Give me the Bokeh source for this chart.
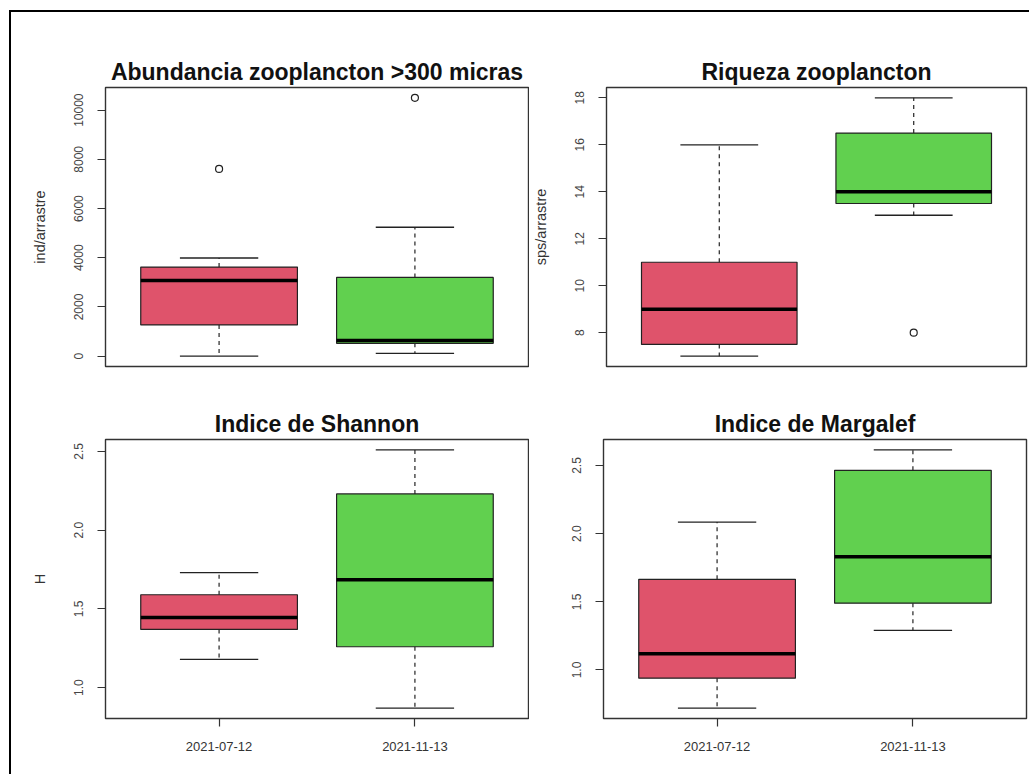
from bokeh.plotting import figure
from bokeh.layouts import column, row
from bokeh.models import Range1d, FixedTicker, PrintfTickFormatter
from bokeh.embed import file_html
from bokeh.resources import INLINE

categories = ["2021-07-12", "2021-11-13"]
colors = ["#DF536B", "#61D04F"]

# Abundancia zooplancton >300 micras (ind/arrastre)
abund_lo = [0, 110]
abund_q1 = [1270, 520]
abund_med = [3080, 640]
abund_q3 = [3620, 3200]
abund_hi = [3990, 5240]
abund_out = [[7610], [10500]]
abund_ticks = [0, 2000, 4000, 6000, 8000, 10000]

# Riqueza zooplancton (sps/arrastre)
riq_lo = [7, 13]
riq_q1 = [7.5, 13.5]
riq_med = [9, 14]
riq_q3 = [11, 16.5]
riq_hi = [16, 18]
riq_out = [[], [8]]
riq_ticks = [8, 10, 12, 14, 16, 18]

# Indice de Shannon (H)
sha_lo = [1.18, 0.87]
sha_q1 = [1.37, 1.26]
sha_med = [1.445, 1.685]
sha_q3 = [1.59, 2.23]
sha_hi = [1.73, 2.51]
sha_out = [[], []]
sha_ticks = [1.0, 1.5, 2.0, 2.5]

# Indice de Margalef
mar_lo = [0.72, 1.29]
mar_q1 = [0.94, 1.49]
mar_med = [1.12, 1.83]
mar_q3 = [1.665, 2.465]
mar_hi = [2.085, 2.615]
mar_out = [[], []]
mar_ticks = [1.0, 1.5, 2.0, 2.5]

FONT = "Liberation Sans"


def make_panel(title, ylabel, lo, q1, med, q3, hi, outs, yticks, fmt,
               show_x, width, height, bl, br, bt, bb):
    xs = [i + 1 for i in range(len(categories))]
    allv = lo + hi + [v for o in outs for v in o]
    vmin, vmax = min(allv), max(allv)
    pad = 0.04 * (vmax - vmin)
    n = len(categories)
    xpad = 0.04 * n
    p = figure(width=width, height=height,
               x_range=Range1d(0.5 - xpad, n + 0.5 + xpad),
               y_range=Range1d(vmin - pad, vmax + pad),
               output_backend="svg", toolbar_location=None,
               min_border_left=bl, min_border_right=br,
               min_border_top=bt, min_border_bottom=bb,
               background_fill_color="white", border_fill_color="white")
    p.title.text = title
    p.title.align = "center"
    p.title.text_font = FONT
    p.title.text_font_size = "23px"
    p.title.text_font_style = "bold"
    p.title.text_color = "#111111"
    p.title.standoff = 5
    p.xgrid.visible = False
    p.ygrid.visible = False
    p.outline_line_color = "#333333"
    p.outline_line_width = 1.4

    # boxes
    p.vbar(x=xs, width=0.8, bottom=q1, top=q3, fill_color=colors,
           line_color="#222222", line_width=1.2)
    # whiskers (dashed)
    p.segment(x0=xs, y0=q3, x1=xs, y1=hi, line_color="#222222",
              line_width=1.2, line_dash="4 4")
    p.segment(x0=xs, y0=q1, x1=xs, y1=lo, line_color="#222222",
              line_width=1.2, line_dash="4 4")
    # staples
    p.segment(x0=[x - 0.2 for x in xs], y0=hi, x1=[x + 0.2 for x in xs],
              y1=hi, line_color="#222222", line_width=1.3)
    p.segment(x0=[x - 0.2 for x in xs], y0=lo, x1=[x + 0.2 for x in xs],
              y1=lo, line_color="#222222", line_width=1.3)
    # medians
    p.segment(x0=[x - 0.4 for x in xs], y0=med, x1=[x + 0.4 for x in xs],
              y1=med, line_color="black", line_width=3.5)
    # outliers
    ox = [xs[i] for i, o in enumerate(outs) for _ in o]
    oy = [v for o in outs for v in o]
    if ox:
        p.scatter(x=ox, y=oy, marker="circle", size=7, fill_color=None,
                  line_color="#222222", line_width=1.2)

    ya = p.yaxis[0]
    ya.ticker = FixedTicker(ticks=yticks)
    ya.formatter = PrintfTickFormatter(format=fmt)
    ya.major_label_orientation = "vertical"
    ya.minor_tick_line_color = None
    ya.axis_line_color = None
    ya.major_tick_out = 8
    ya.major_tick_in = 0
    ya.major_tick_line_color = "#333333"
    ya.major_tick_line_width = 1.2
    ya.major_label_text_font = FONT
    ya.major_label_text_font_size = "12px"
    ya.major_label_text_color = "#444444"
    ya.major_label_standoff = 14
    ya.axis_label = ylabel
    ya.axis_label_text_font = FONT
    ya.axis_label_text_font_size = "14.5px"
    ya.axis_label_text_font_style = "normal"
    ya.axis_label_text_color = "#333333"
    ya.axis_label_standoff = 24

    xa = p.xaxis[0]
    if show_x:
        xa.ticker = FixedTicker(ticks=xs)
        xa.major_label_overrides = {x: c for x, c in zip(xs, categories)}
        xa.minor_tick_line_color = None
        xa.axis_line_color = None
        xa.major_tick_out = 8
        xa.major_tick_in = 0
        xa.major_tick_line_color = "#333333"
        xa.major_tick_line_width = 1.2
        xa.major_label_text_font = FONT
        xa.major_label_text_font_size = "13px"
        xa.major_label_text_color = "#333333"
        xa.major_label_standoff = 15
    else:
        xa.visible = False
    return p


p1 = make_panel("Abundancia zooplancton >300 micras", "ind/arrastre",
                abund_lo, abund_q1, abund_med, abund_q3, abund_hi, abund_out,
                abund_ticks, "%d", False, 518, 368, 94, 1, 75, 14)
p2 = make_panel("Riqueza zooplancton", "sps/arrastre",
                riq_lo, riq_q1, riq_med, riq_q3, riq_hi, riq_out,
                riq_ticks, "%d", False, 500, 368, 74, 3, 75, 14)
p3 = make_panel("Indice de Shannon", "H",
                sha_lo, sha_q1, sha_med, sha_q3, sha_hi, sha_out,
                sha_ticks, "%.1f", True, 518, 394, 94, 1, 59, 56)
p4 = make_panel("Indice de Margalef", "",
                mar_lo, mar_q1, mar_med, mar_q3, mar_hi, mar_out,
                mar_ticks, "%.1f", True, 500, 394, 74, 3, 59, 56)

layout = column(row(p1, p2), row(p3, p4), margin=(10, 0, 0, 9),
                styles={"border-top": "2px solid black",
                        "border-left": "2px solid black"})

open("out.html", "w").write(file_html(layout, INLINE))
